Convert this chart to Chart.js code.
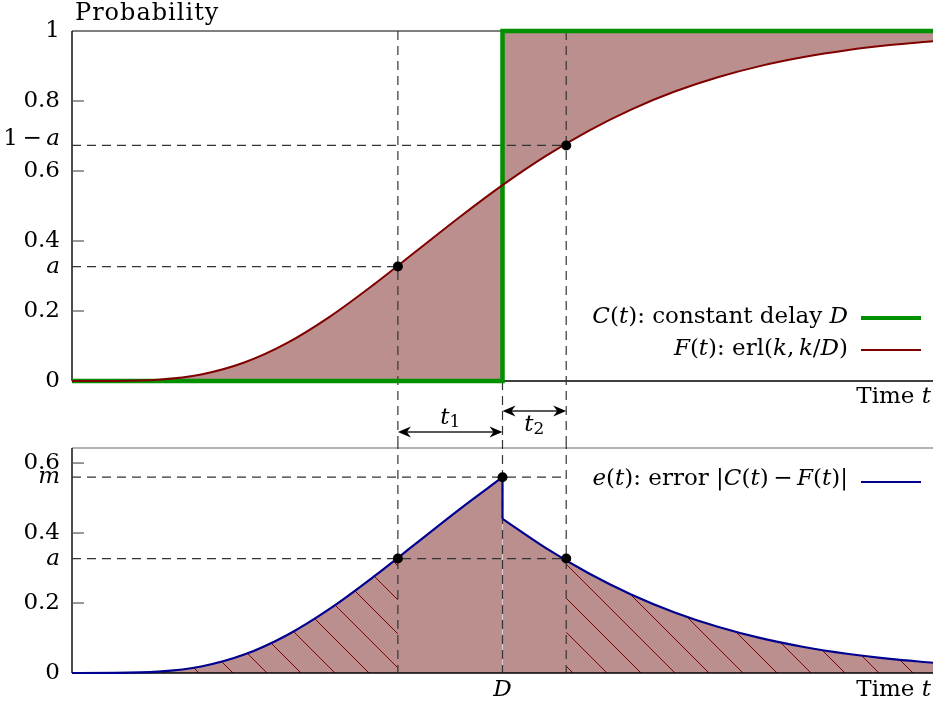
<!DOCTYPE html>
<html lang="en">
<head>
<meta charset="UTF-8" />
<title>Constant delay vs Erlang</title>
<script src="https://cdn.jsdelivr.net/npm/chart.js"></script>
<style>
  body { margin: 0; background: #fff; }
  #wrap { position: relative; width: 933px; height: 706px; overflow: hidden; }
  #grafTopo { position: absolute; left: 0; top: 0; }
  #grafBase { position: absolute; left: 0; top: 440px; }
</style>
</head>
<body>
<div id="wrap">
  <!-- 5px wider than the page: chart.js keeps a 5px overflow margin on the right for the dots -->
  <canvas id="grafTopo" width="938" height="440"></canvas>
  <canvas id="grafBase" width="938" height="266"></canvas>
</div>
<script>
// time axis in units of D (D = 1)
const tempos = [0, 0.1, 0.2, 0.3, 0.4, 0.5, 0.6, 0.7, 0.8, 0.9, 1.0, 1.1, 1.2, 1.3, 1.4, 1.5, 1.6, 1.7, 1.8, 1.9, 2.0];
// F(t), erlang cdf
const erlangF = [0, 0.0002, 0.0037, 0.0186, 0.0527, 0.1088, 0.1847, 0.2746, 0.3712, 0.4679, 0.5595, 0.6425, 0.7149, 0.7763, 0.8270, 0.8679, 0.9004, 0.9256, 0.9450, 0.9597, 0.9707];
// e(t) after the step, t = 1.0 .. 2.0
const erroDir = [0.4405, 0.3575, 0.2851, 0.2237, 0.1730, 0.1321, 0.0996, 0.0744, 0.0550, 0.0403, 0.0293];
// C(t), constant delay step
const degrauT = [0, 1, 1, 2];
const degrauV = [0, 0, 1, 1];
// t1, D, t2 and the levels a, m
const marcaT = [0.757, 1.0, 1.148];
const nivelA = 0.327;
const nivelM = 0.5595;
const ticksTopo = [0.2, 0.4, 0.6, 0.8];
const ticksBase = [0.2, 0.4, 0.6];
const rotTopo = ['0', '0.2', '0.4', '0.6', '0.8', '1'];
const rotBase = ['0', '0.2', '0.4', '0.6'];

const ROSA = '#bc8f8f', VERDE = '#009000', BORDO = '#800000', AZUL = '#000090';
const FONTE = '"DejaVu Serif", serif';
const TAM = 23;

const pts = (xs, ys) => xs.map((t, i) => ({ x: t, y: ys[i] }));

function linha(ctx, x0, y0, x1, y1) {
  ctx.beginPath(); ctx.moveTo(x0, y0); ctx.lineTo(x1, y1); ctx.stroke();
}

// parts: [text, italic, sub]
function texto(ctx, parts, x, y, align, size) {
  size = size || TAM;
  const fontOf = p => (p[1] ? 'italic ' : '') + (p[2] ? Math.round(size * 0.72) : size) + 'px ' + FONTE;
  let w = 0;
  parts.forEach(p => { ctx.font = fontOf(p); w += ctx.measureText(p[0]).width; });
  let cx = align === 'right' ? x - w : align === 'center' ? x - w / 2 : x;
  ctx.textAlign = 'left';
  ctx.textBaseline = 'middle';
  ctx.fillStyle = '#000';
  parts.forEach(p => {
    ctx.font = fontOf(p);
    ctx.fillText(p[0], cx, y + (p[2] ? 5 : 0));
    cx += ctx.measureText(p[0]).width;
  });
}

function ponta(ctx, x, y, dir) {
  ctx.beginPath();
  ctx.moveTo(x, y);
  ctx.lineTo(x - dir * 13, y - 5.5);
  ctx.lineTo(x - dir * 9, y);
  ctx.lineTo(x - dir * 13, y + 5.5);
  ctx.closePath();
  ctx.fill();
}

function seta(ctx, xa, xb, y) {
  ctx.strokeStyle = '#222'; ctx.lineWidth = 1.3; ctx.setLineDash([]);
  linha(ctx, xa + 4, y, xb - 4, y);
  ctx.fillStyle = '#000';
  ponta(ctx, xa, y, -1);
  ponta(ctx, xb, y, 1);
}

function tracejado(ctx) {
  ctx.setLineDash([9, 6]);
  ctx.strokeStyle = '#333';
  ctx.lineWidth = 1.2;
}

// hatch pattern for the lower panel
function hachura() {
  const c = document.createElement('canvas');
  c.width = 34; c.height = 34;
  const g = c.getContext('2d');
  g.strokeStyle = BORDO; g.lineWidth = 1;
  linha(g, -1, -1, 35, 35);
  linha(g, 33, -1, 35, 1);
  linha(g, -1, 33, 1, 35);
  return g.createPattern(c, 'repeat');
}

const decorTopo = {
  id: 'decorTopo',
  beforeDatasetsDraw(chart) {
    const { ctx, chartArea: ca, scales: { x, y } } = chart;
    ctx.save();
    ctx.strokeStyle = '#000';
    ctx.lineWidth = 1;
    linha(ctx, ca.left, ca.top, ca.right, ca.top);
    ctx.lineWidth = 1.4;
    linha(ctx, ca.left, ca.top, ca.left, ca.bottom);
    linha(ctx, ca.left, ca.bottom, ca.right, ca.bottom);
    ctx.strokeStyle = '#555'; ctx.lineWidth = 1.2;
    ticksTopo.forEach(v => linha(ctx, ca.left, y.getPixelForValue(v), ca.left + 12, y.getPixelForValue(v)));

    const x1 = x.getPixelForValue(marcaT[0]);
    const xD = x.getPixelForValue(marcaT[1]);
    const x2 = x.getPixelForValue(marcaT[2]);
    tracejado(ctx);
    linha(ctx, ca.left, y.getPixelForValue(nivelA), x1, y.getPixelForValue(nivelA));
    linha(ctx, ca.left, y.getPixelForValue(1 - nivelA), x2, y.getPixelForValue(1 - nivelA));
    linha(ctx, x1, ca.top, x1, chart.height);
    linha(ctx, x2, ca.top, x2, chart.height);
    linha(ctx, xD, ca.bottom, xD, chart.height);
    ctx.restore();
  },
  afterDatasetsDraw(chart) {
    const { ctx, chartArea: ca, scales: { x, y } } = chart;
    ctx.save();
    ctx.letterSpacing = '1px';
    texto(ctx, [['Probability', 0]], 75, 14, 'left', 24);
    ctx.letterSpacing = '0px';
    rotTopo.forEach((r, i) => texto(ctx, [[r, 0]], 60, y.getPixelForValue(i * 0.2), 'right'));
    texto(ctx, [['a', 1]], 60, y.getPixelForValue(nivelA), 'right');
    texto(ctx, [['1\u2009\u2212\u2009', 0], ['a', 1]], 60, y.getPixelForValue(1 - nivelA) - 6, 'right');
    texto(ctx, [['Time ', 0], ['t', 1]], 931, ca.bottom + 16, 'right');

    // legend
    texto(ctx, [['C', 1], ['(', 0], ['t', 1], ['): constant delay ', 0], ['D', 1]], 848, 317, 'right');
    texto(ctx, [['F', 1], ['(', 0], ['t', 1], ['): erl(', 0], ['k', 1], [',\u2009', 0], ['k', 1], ['/', 0], ['D', 1], [')', 0]], 848, 349, 'right');
    ctx.setLineDash([]);
    ctx.strokeStyle = VERDE; ctx.lineWidth = 4;
    linha(ctx, 861, 318, 921, 318);
    ctx.strokeStyle = BORDO; ctx.lineWidth = 2;
    linha(ctx, 861, 350, 921, 350);

    // t1 / t2 arrows in the gap
    const x1 = x.getPixelForValue(marcaT[0]);
    const xD = x.getPixelForValue(marcaT[1]);
    const x2 = x.getPixelForValue(marcaT[2]);
    seta(ctx, x1, xD, 432);
    seta(ctx, xD, x2, 411);
    texto(ctx, [['t', 1], ['1', 0, 1]], (x1 + xD) / 2, 418, 'center');
    texto(ctx, [['t', 1], ['2', 0, 1]], (xD + x2) / 2, 425, 'center');
    ctx.restore();
  }
};

const decorBase = {
  id: 'decorBase',
  beforeDatasetsDraw(chart) {
    const { ctx, chartArea: ca, scales: { x, y } } = chart;
    ctx.save();
    ctx.strokeStyle = '#666'; ctx.lineWidth = 1.2;
    linha(ctx, ca.left, ca.top, ca.right, ca.top);
    ctx.strokeStyle = '#000'; ctx.lineWidth = 1.4;
    linha(ctx, ca.left, ca.top, ca.left, ca.bottom);
    linha(ctx, ca.left, ca.bottom, ca.right, ca.bottom);
    ctx.strokeStyle = '#555'; ctx.lineWidth = 1.2;
    ticksBase.forEach(v => linha(ctx, ca.left, y.getPixelForValue(v), ca.left + 12, y.getPixelForValue(v)));

    const x1 = x.getPixelForValue(marcaT[0]);
    const xD = x.getPixelForValue(marcaT[1]);
    const x2 = x.getPixelForValue(marcaT[2]);
    tracejado(ctx);
    linha(ctx, ca.left, y.getPixelForValue(nivelM), x2, y.getPixelForValue(nivelM));
    linha(ctx, ca.left, y.getPixelForValue(nivelA), x2, y.getPixelForValue(nivelA));
    [x1, xD, x2].forEach(px => linha(ctx, px, 0, px, ca.bottom));
    ctx.restore();
  },
  afterDatasetsDraw(chart) {
    const { ctx, chartArea: ca, scales: { x, y } } = chart;
    ctx.save();
    rotBase.forEach((r, i) => texto(ctx, [[r, 0]], 60, y.getPixelForValue(i * 0.2), 'right'));
    texto(ctx, [['m', 1]], 60, y.getPixelForValue(nivelM), 'right');
    texto(ctx, [['a', 1]], 60, y.getPixelForValue(nivelA), 'right');
    texto(ctx, [['D', 1]], x.getPixelForValue(marcaT[1]), ca.bottom + 17, 'center');
    texto(ctx, [['Time ', 0], ['t', 1]], 931, ca.bottom + 17, 'right');

    texto(ctx, [['e', 1], ['(', 0], ['t', 1], ['): error |', 0], ['C', 1], ['(', 0], ['t', 1],
      [')\u2009\u2212\u2009', 0], ['F', 1], ['(', 0], ['t', 1], [')|', 0]], 848, 39, 'right');
    ctx.setLineDash([]);
    ctx.strokeStyle = AZUL; ctx.lineWidth = 2;
    linha(ctx, 861, 42, 921, 42);
    ctx.restore();
  }
};

const baseOpts = (ymax, pad) => ({
  responsive: false,
  animation: false,
  events: [],
  layout: { padding: pad },
  plugins: { legend: { display: false }, tooltip: { enabled: false }, filler: { drawTime: 'beforeDatasetsDraw' } },
  elements: { point: { radius: 0 } },
  scales: {
    x: { type: 'linear', min: 0, max: 2, display: false },
    y: { min: 0, max: ymax, display: false }
  }
});

const marcas = {
  data: pts(marcaT, [nivelA, nivelM, nivelA]),
  showLine: false, pointRadius: 5, pointBackgroundColor: '#000', pointBorderWidth: 0, order: 0, clip: false
};

new Chart(document.getElementById('grafTopo'), {
  type: 'line',
  data: {
    datasets: [
      { label: 'C(t)', data: pts(degrauT, degrauV), borderColor: VERDE, borderWidth: 4.5, tension: 0, fill: false, order: 2, clip: false },
      { label: 'F(t)', data: pts(tempos, erlangF), borderColor: BORDO, borderWidth: 2, cubicInterpolationMode: 'monotone',
        fill: '-1', backgroundColor: ROSA, order: 1, clip: false },
      { data: pts([marcaT[0], marcaT[2]], [nivelA, 1 - nivelA]), showLine: false, pointRadius: 5,
        pointBackgroundColor: '#000', pointBorderWidth: 0, order: 0, clip: false }
    ]
  },
  options: baseOpts(1, { left: 72, right: 0, top: 31, bottom: 59 }),
  plugins: [decorTopo]
});

const padrao = hachura();
const hachEsqT = tempos.slice(0, 8).concat([marcaT[0]]);
const hachEsqV = erlangF.slice(0, 8).concat([nivelA]);
const hachDirT = [marcaT[2]].concat(tempos.slice(12));
const hachDirV = [nivelA].concat(erroDir.slice(2));

new Chart(document.getElementById('grafBase'), {
  type: 'line',
  data: {
    datasets: [
      marcas,
      { data: pts([1, 1], [nivelM, erroDir[0]]), borderColor: AZUL, borderWidth: 2.2, fill: false, order: 1, clip: false },
      { data: pts(hachEsqT, hachEsqV), borderWidth: 0, cubicInterpolationMode: 'monotone', fill: 'origin', backgroundColor: padrao, order: 2 },
      { data: pts(hachDirT, hachDirV), borderWidth: 0, cubicInterpolationMode: 'monotone', fill: 'origin', backgroundColor: padrao, order: 2 },
      { label: 'e(t)', data: pts(tempos.slice(0, 11), erlangF.slice(0, 11)), borderColor: AZUL, borderWidth: 2.2,
        cubicInterpolationMode: 'monotone', fill: 'origin', backgroundColor: ROSA, order: 3, clip: false },
      { data: pts(tempos.slice(10), erroDir), borderColor: AZUL, borderWidth: 2.2,
        cubicInterpolationMode: 'monotone', fill: 'origin', backgroundColor: ROSA, order: 3, clip: false }
    ]
  },
  options: baseOpts(0.643, { left: 72, right: 0, top: 8, bottom: 33 }),
  plugins: [decorBase]
});
</script>
</body>
</html>
